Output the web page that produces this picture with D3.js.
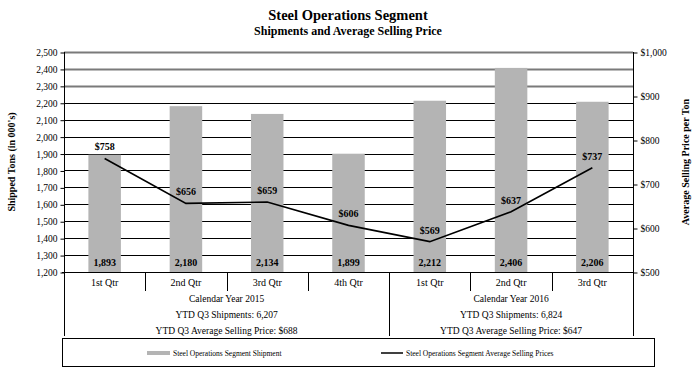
<!DOCTYPE html>
<html>
<head>
<meta charset="utf-8">
<script src="https://cdn.jsdelivr.net/npm/d3@7"></script>
<style>
    body { margin: 0; background: #fff; }
    svg { display: block; font-family: "Liberation Serif", "DejaVu Serif", serif; }
</style>
</head>
<body>
<svg id="chart" width="697" height="376"></svg>
<script>
    // ---- data ----
    var quarters = ['1st Qtr', '2nd Qtr', '3rd Qtr', '4th Qtr', '1st Qtr', '2nd Qtr', '3rd Qtr'];
    var shipments = [1893, 2180, 2134, 1899, 2212, 2406, 2206];
    var prices = [758, 656, 659, 606, 569, 637, 737];

    var years = ['Calendar Year 2015', 'Calendar Year 2016'];
    var yearSpans = [4, 3];
    var ytdShipments = ['YTD Q3 Shipments: 6,207', 'YTD Q3 Shipments: 6,824'];
    var ytdPrices = ['YTD Q3 Average Selling Price: $688', 'YTD Q3 Average Selling Price: $647'];

    var leftTicks = d3.range(1200, 2501, 100);
    var rightTicks = d3.range(500, 1001, 100);

(function () {

    // ---- layout ----
    var plotLeft = 64, plotRight = 633, plotTop = 52, plotBottom = 272;
    var tableBottom = 336;

    var svg = d3.select('#chart');

    var x = d3.scaleBand()
        .domain(d3.range(quarters.length))
        .range([plotLeft, plotRight])
        .paddingInner(0).paddingOuter(0);

    var y = d3.scaleLinear().domain([1200, 2500]).range([plotBottom, plotTop]);
    var y2 = d3.scaleLinear().domain([500, 1000]).range([plotBottom, plotTop]);

    var fmt = d3.format(',');

    // titles
    svg.append('text')
        .attr('x', 348).attr('y', 20)
        .attr('text-anchor', 'middle')
        .attr('font-size', 14.5).attr('font-weight', 'bold')
        .text('Steel Operations Segment');

    svg.append('text')
        .attr('x', 348).attr('y', 35)
        .attr('text-anchor', 'middle')
        .attr('font-size', 12).attr('font-weight', 'bold')
        .text('Shipments and Average Selling Price');

    // gridlines (top three drawn grey and heavier, as in the source)
    svg.append('g').selectAll('line')
        .data(leftTicks.slice(1))
        .enter().append('line')
            .attr('x1', plotLeft).attr('x2', plotRight)
            .attr('y1', function (d) { return Math.round(y(d)) + 0.5; })
            .attr('y2', function (d) { return Math.round(y(d)) + 0.5; })
            .attr('stroke', function (d) { return d >= 2300 ? '#7a7a7a' : '#000'; })
            .attr('stroke-width', function (d) { return d >= 2300 ? 2 : 1; });

    // bars
    var barW = x.bandwidth() * 0.4;
    svg.append('g').selectAll('rect')
        .data(shipments)
        .enter().append('rect')
            .attr('x', function (d, i) { return x(i) + (x.bandwidth() - barW) / 2; })
            .attr('y', function (d) { return y(d); })
            .attr('width', barW)
            .attr('height', function (d) { return y(1200) - y(d); })
            .attr('fill', '#b4b4b4');

    // bar value labels
    svg.append('g').selectAll('text')
        .data(shipments)
        .enter().append('text')
            .attr('x', function (d, i) { return x(i) + x.bandwidth() / 2; })
            .attr('y', plotBottom - 6)
            .attr('text-anchor', 'middle')
            .attr('font-size', 10).attr('font-weight', 'bold')
            .text(function (d) { return fmt(d); });

    // price line
    var line = d3.line()
        .x(function (d, i) { return x(i) + x.bandwidth() / 2; })
        .y(function (d) { return y2(d); });

    svg.append('path')
        .datum(prices)
        .attr('d', line)
        .attr('fill', 'none')
        .attr('stroke', '#000')
        .attr('stroke-width', 1.6);

    svg.append('g').selectAll('text')
        .data(prices)
        .enter().append('text')
            .attr('x', function (d, i) { return x(i) + x.bandwidth() / 2; })
            .attr('y', function (d) { return y2(d) - 8; })
            .attr('text-anchor', 'middle')
            .attr('font-size', 10).attr('font-weight', 'bold')
            .text(function (d) { return '$' + d; });

    // axes
    var leftAxis = d3.axisLeft(y).tickValues(leftTicks).tickSize(4).tickFormat(fmt);
    var rightAxis = d3.axisRight(y2).tickValues(rightTicks).tickSize(4)
        .tickFormat(function (d) { return '$' + fmt(d); });

    var gl = svg.append('g').attr('transform', 'translate(' + (plotLeft + 0.5) + ',0.5)').call(leftAxis);
    var gr = svg.append('g').attr('transform', 'translate(' + (plotRight + 0.5) + ',0.5)').call(rightAxis);

    [gl, gr].forEach(function (g) {
        g.select('.domain').remove();
        g.selectAll('text').attr('font-family', 'Liberation Serif').attr('font-size', 9.5).attr('fill', '#000');
        g.selectAll('line').attr('stroke', '#000');
    });

    // axis lines running down through the table
    svg.append('line')
        .attr('x1', plotLeft + 0.5).attr('x2', plotLeft + 0.5)
        .attr('y1', plotTop).attr('y2', tableBottom)
        .attr('stroke', '#000');
    svg.append('line')
        .attr('x1', plotRight + 0.5).attr('x2', plotRight + 0.5)
        .attr('y1', plotTop).attr('y2', tableBottom)
        .attr('stroke', '#000');
    svg.append('line')
        .attr('x1', plotLeft - 2).attr('x2', plotRight)
        .attr('y1', plotBottom + 0.5).attr('y2', plotBottom + 0.5)
        .attr('stroke', '#000');

    // axis titles
    svg.append('text')
        .attr('transform', 'translate(15,' + ((plotTop + plotBottom) / 2) + ') rotate(-90)')
        .attr('text-anchor', 'middle')
        .attr('font-size', 10).attr('font-weight', 'bold')
        .text('Shipped Tons (in 000\'s)');

    svg.append('text')
        .attr('transform', 'translate(689,' + ((plotTop + plotBottom) / 2) + ') rotate(-90)')
        .attr('text-anchor', 'middle')
        .attr('font-size', 10).attr('font-weight', 'bold')
        .text('Average Selling Price per Ton');

    /*============ CATEGORY TABLE ============*/

    var table = svg.append('g');

    table.selectAll('text.qtr')
        .data(quarters)
        .enter().append('text')
            .attr('class', 'qtr')
            .attr('x', function (d, i) { return x(i) + x.bandwidth() / 2; })
            .attr('y', plotBottom + 14)
            .attr('text-anchor', 'middle')
            .attr('font-size', 10)
            .text(function (d) { return d; });

    // dividers between quarters; year boundary runs full height
    var yearEnd = Array.from(d3.cumsum(yearSpans));
    table.selectAll('line.div')
        .data(d3.range(1, quarters.length))
        .enter().append('line')
            .attr('class', 'div')
            .attr('x1', function (i) { return Math.round(x(i)) + 0.5; })
            .attr('x2', function (i) { return Math.round(x(i)) + 0.5; })
            .attr('y1', plotBottom)
            .attr('y2', function (i) { return yearEnd.indexOf(i) !== -1 ? tableBottom : plotBottom + 19; })
            .attr('stroke', '#000');

    var yearStart = [0].concat(yearEnd.slice(0, -1));
    var yearCenter = yearStart.map(function (s, k) {
        return (x(s) + x(s + yearSpans[k] - 1) + x.bandwidth()) / 2;
    });

    [years, ytdShipments, ytdPrices].forEach(function (row, r) {
        table.selectAll('text.row' + r)
            .data(row)
            .enter().append('text')
                .attr('class', 'row' + r)
                .attr('x', function (d, k) { return yearCenter[k]; })
                .attr('y', plotBottom + 30 + r * 16)
                .attr('text-anchor', 'middle')
                .attr('font-size', 9.5)
                .text(function (d) { return d; });
    });

    /*============ LEGEND ============*/

    var legend = svg.append('g');
    legend.append('rect')
        .attr('x', 62.5).attr('y', 338.5)
        .attr('width', 592).attr('height', 28)
        .attr('fill', 'none').attr('stroke', '#000');

    legend.append('line')
        .attr('x1', 147).attr('x2', 170).attr('y1', 353).attr('y2', 353)
        .attr('stroke', '#b4b4b4').attr('stroke-width', 4);
    legend.append('text')
        .attr('x', 173).attr('y', 356)
        .attr('font-size', 7.5)
        .text('Steel Operations Segment Shipment');

    legend.append('line')
        .attr('x1', 381).attr('x2', 403).attr('y1', 353).attr('y2', 353)
        .attr('stroke', '#000').attr('stroke-width', 1.5);
    legend.append('text')
        .attr('x', 406).attr('y', 356)
        .attr('font-size', 7.5)
        .text('Steel Operations Segment Average Selling Prices');

})();
</script>
</body>
</html>
